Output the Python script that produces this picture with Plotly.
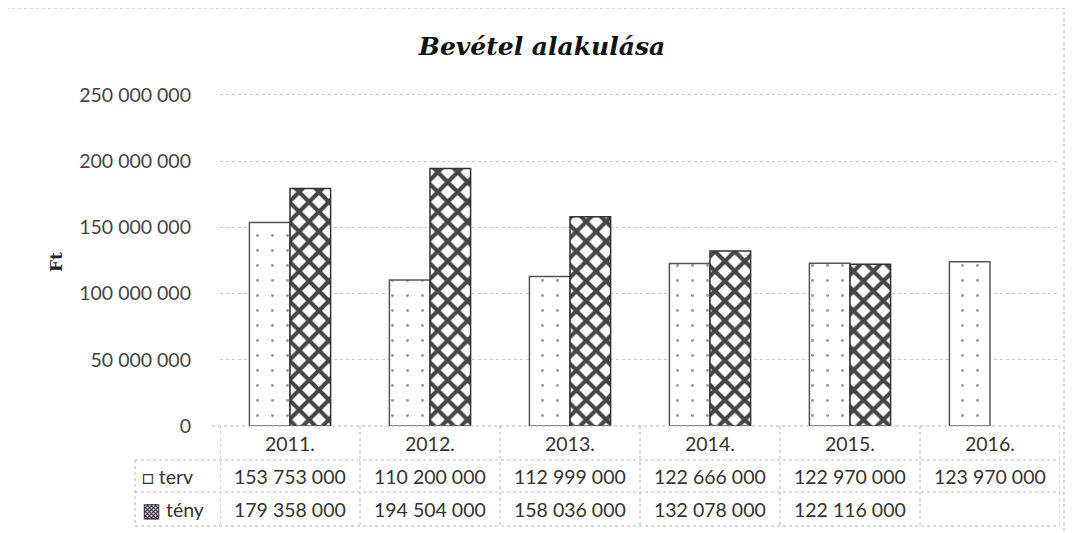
import plotly.graph_objects as go

categories = ["2011.", "2012.", "2013.", "2014.", "2015.", "2016."]
terv = [153753000, 110200000, 112999000, 122666000, 122970000, 123970000]
teny = [179358000, 194504000, 158036000, 132078000, 122116000, None]
y_ticks = [0, 50000000, 100000000, 150000000, 200000000, 250000000]
title_text = "Bevétel alakulása"
y_title = "Ft"

OFF = 8  # page body offset
W, H = 1076 - OFF, 533 - OFF
# plot area in screen pixels: x 220..1060, y 93..426
ML = 220 - OFF
MT = 93 - OFF
MR = W - (1060 - OFF)
MB = H - (426 - OFF)
PH = H - MT - MB
PW = W - ML - MR

def fmt(v):
    return "" if v is None else f"{v:,}".replace(",", " ")

def py(pix):
    return (426 - pix) / PH

def px(pix):
    return (pix - 220) / PW

idx = list(range(len(categories)))

fig = go.Figure()
fig.add_trace(go.Bar(
    name="terv", x=idx, y=terv,
    marker=dict(color="white", line=dict(color="#555555", width=1.5),
                pattern=dict(shape=".", fgcolor="#9a9a9a", fgopacity=1, size=15, solidity=0.03,
                             fillmode="overlay")),
))
fig.add_trace(go.Bar(
    name="tény", x=idx, y=teny,
    marker=dict(color="white", line=dict(color="#333333", width=1.5),
                pattern=dict(shape="x", fgcolor="#454545", fgopacity=1, size=14, solidity=0.5,
                             fillmode="overlay")),
))

font_fam = "Lato, Open Sans, sans-serif"
tfont = dict(family=font_fam, size=19.5, color="#333")
ann = []
shapes = []
for i, c in enumerate(categories):
    ann.append(dict(x=i, y=py(443), xref="x", yref="paper", text=c, showarrow=False,
                    xanchor="center", yanchor="middle", font=tfont))
    ann.append(dict(x=i, y=py(476), xref="x", yref="paper", text=fmt(terv[i]), showarrow=False,
                    xanchor="center", yanchor="middle", font=tfont))
    ann.append(dict(x=i, y=py(509), xref="x", yref="paper", text=fmt(teny[i]), showarrow=False,
                    xanchor="center", yanchor="middle", font=tfont))
ann.append(dict(x=px(140), y=py(476), xref="paper", yref="paper", xanchor="left", yanchor="middle",
                text="□ terv", showarrow=False, font=tfont))
ann.append(dict(x=px(140), y=py(509), xref="paper", yref="paper", xanchor="left", yanchor="middle",
                text="▩ tény", showarrow=False, font=tfont))
ann.append(dict(x=px(56), y=py(262), xref="paper", yref="paper", xanchor="center", yanchor="middle",
                text=f"<b>{y_title}</b>", textangle=-90, showarrow=False,
                font=dict(family="DejaVu Serif, serif", size=17, color="#222")))

line_style = dict(color="#b8b8b8", width=1, dash="dot")
shapes.append(dict(type="line", xref="paper", yref="paper", x0=px(212), x1=1, y0=0, y1=0, line=line_style))
for yy in [460, 492, 526]:
    shapes.append(dict(type="line", xref="paper", yref="paper", x0=px(135), x1=1, y0=py(yy), y1=py(yy),
                       line=line_style))
for k in range(len(categories) + 1):
    shapes.append(dict(type="line", xref="x", yref="paper", x0=k - 0.5, x1=k - 0.5, y0=0, y1=py(526),
                       line=line_style))
shapes.append(dict(type="line", xref="paper", yref="paper", x0=px(135), x1=px(135), y0=py(460), y1=py(526),
                   line=line_style))
shapes.append(dict(type="rect", xref="paper", yref="paper", x0=px(6), x1=px(1064), y0=py(8), y1=py(545),
                   line=dict(color="#b8b8b8", width=1, dash="dot")))

fig.update_layout(
    width=W, height=H,
    margin=dict(l=ML, r=MR, t=MT, b=MB),
    paper_bgcolor="white", plot_bgcolor="white",
    separators=", ",
    barmode="group", bargap=0.42, bargroupgap=0,
    showlegend=False,
    title=dict(text=f"<b><i>{title_text}</i></b>", x=0.5, xanchor="center", y=1 - (46 - OFF) / H,
               yanchor="middle",
               font=dict(family="DejaVu Serif, serif", size=25, color="#111")),
    xaxis=dict(type="linear", showticklabels=False, showgrid=False, zeroline=False, showline=False,
               range=[-0.5, len(categories) - 0.5]),
    yaxis=dict(range=[0, 251500000], tickvals=y_ticks, tickformat=",d",
               showgrid=True, gridcolor="#c8c8c8", griddash="dot", gridwidth=1,
               zeroline=False, showline=False, ticks="", ticklabelstandoff=28,
               tickfont=dict(family=font_fam, size=19.5, color="#444")),
    annotations=ann, shapes=shapes,
)

fig.write_html("out.html")
